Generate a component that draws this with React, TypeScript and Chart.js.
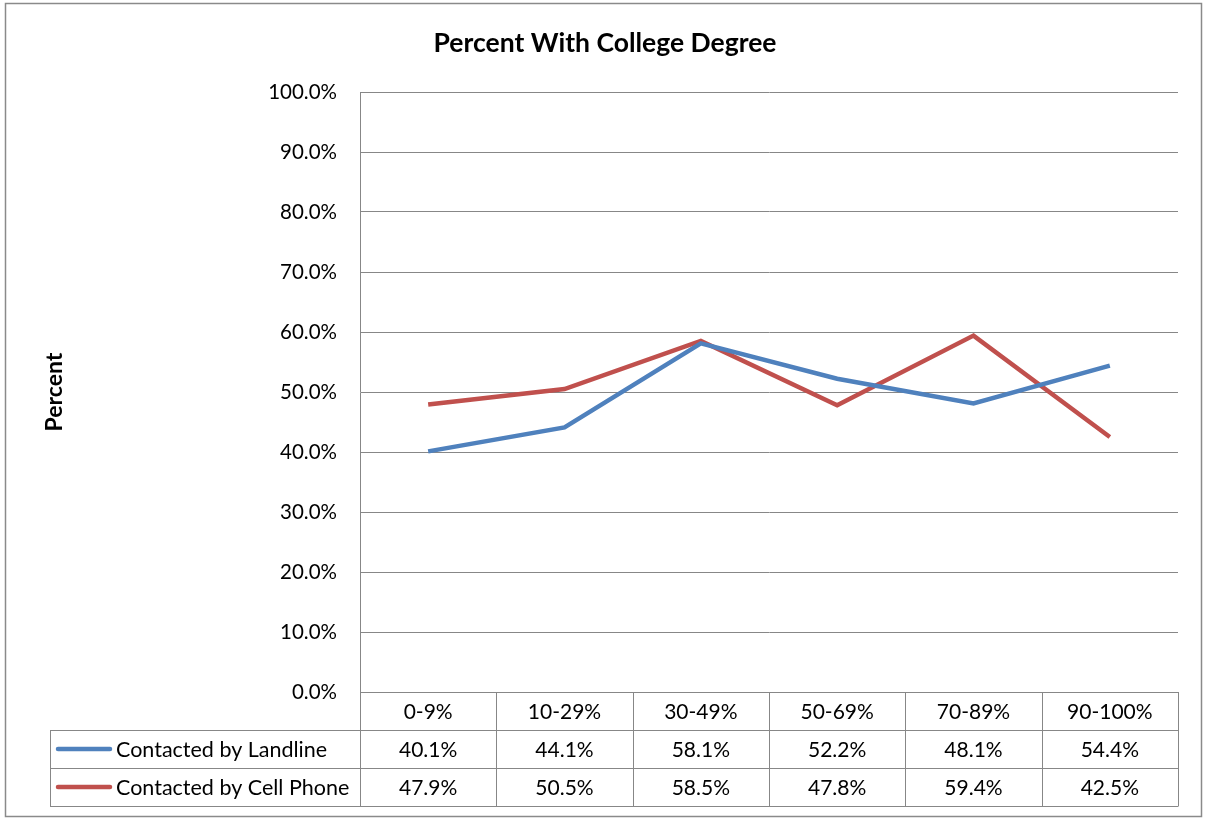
import React, { useEffect, useRef } from "react";
import { Chart, registerables, Plugin } from "chart.js";

Chart.register(...registerables);

const CATEGORIES = ["0-9%", "10-29%", "30-49%", "50-69%", "70-89%", "90-100%"];
const SERIES_NAMES = ["Contacted by Landline", "Contacted by Cell Phone"];
const LANDLINE = [40.1, 44.1, 58.1, 52.2, 48.1, 54.4];
const CELL_PHONE = [47.9, 50.5, 58.5, 47.8, 59.4, 42.5];
const SERIES_COLORS = ["#4F81BD", "#C0504D"];
const Y_MIN = 0;
const Y_MAX = 100;
const Y_STEP = 10;

const FONT = "Lato, 'DejaVu Sans', sans-serif";
const LINE_GRAY = "#878787";
const ROW_H = 38;
const SERIES_WIDTH = 4.5;

const fmt = (v: number) => v.toFixed(1) + "%";

// White background and the outer frame of the chart object
const framePlugin: Plugin<"line"> = {
  id: "frame",
  beforeDraw(chart) {
    const { ctx, width, height } = chart;
    ctx.save();
    ctx.fillStyle = "#ffffff";
    ctx.fillRect(0, 0, width, height);
    ctx.strokeStyle = "#8a8a8a";
    ctx.lineWidth = 1.5;
    ctx.strokeRect(5.5, 3.5, 1196, 813);
    ctx.restore();
  },
};

// Data table under the plot: category header row plus one row per series
const dataTablePlugin: Plugin<"line"> = {
  id: "dataTable",
  afterDraw(chart) {
    const { ctx, chartArea } = chart;
    const x = chart.scales.x;
    const n = CATEGORIES.length;
    const step = (chartArea.right - chartArea.left) / n;
    const top = Math.round(chartArea.bottom);
    const legendLeft = 50;
    const rows = [top, top + ROW_H, top + 2 * ROW_H, top + 3 * ROW_H];
    const seriesValues = [LANDLINE, CELL_PHONE];

    ctx.save();
    ctx.strokeStyle = LINE_GRAY;
    ctx.lineWidth = 1;
    const hline = (x0: number, x1: number, y: number) => {
      ctx.beginPath();
      ctx.moveTo(x0, Math.round(y) + 0.5);
      ctx.lineTo(x1, Math.round(y) + 0.5);
      ctx.stroke();
    };
    const vline = (xx: number, y0: number, y1: number) => {
      ctx.beginPath();
      ctx.moveTo(Math.round(xx) + 0.5, y0);
      ctx.lineTo(Math.round(xx) + 0.5, y1);
      ctx.stroke();
    };

    // horizontal rules
    hline(chartArea.left, chartArea.right, rows[1]);
    hline(legendLeft, chartArea.left, rows[1]);
    hline(legendLeft, chartArea.right, rows[2]);
    hline(legendLeft, chartArea.right, rows[3]);

    // vertical rules
    vline(legendLeft, rows[1], rows[3] + 0.5);
    vline(chartArea.left, rows[0], rows[3] + 0.5);
    for (let i = 0; i < n; i++) {
      const right = x.getPixelForValue(i) + step / 2;
      vline(right, rows[0], rows[3] + 0.5);
    }

    ctx.fillStyle = "#000000";
    ctx.textBaseline = "middle";
    ctx.textAlign = "center";
    ctx.font = `21px ${FONT}`;
    CATEGORIES.forEach((c, i) => {
      ctx.fillText(c, x.getPixelForValue(i), (rows[0] + rows[1]) / 2 + 1);
    });
    seriesValues.forEach((vals, r) => {
      const cy = (rows[r + 1] + rows[r + 2]) / 2 + 1;
      ctx.font = `21px ${FONT}`;
      ctx.textAlign = "center";
      vals.forEach((v, i) => {
        ctx.fillText(fmt(v), x.getPixelForValue(i), cy);
      });
      // legend key
      ctx.strokeStyle = SERIES_COLORS[r];
      ctx.lineWidth = SERIES_WIDTH;
      ctx.lineCap = "round";
      ctx.beginPath();
      ctx.moveTo(58, cy - 1);
      ctx.lineTo(110, cy - 1);
      ctx.stroke();
      ctx.font = `21.5px ${FONT}`;
      ctx.textAlign = "left";
      ctx.fillText(SERIES_NAMES[r], 116, cy);
    });
    ctx.restore();
  },
};

export default function App() {
  const canvasRef = useRef<HTMLCanvasElement | null>(null);

  useEffect(() => {
    if (!canvasRef.current) return;
    const chart = new Chart(canvasRef.current, {
      type: "line",
      data: {
        labels: CATEGORIES,
        datasets: [
          {
            label: SERIES_NAMES[0],
            data: LANDLINE,
            borderColor: SERIES_COLORS[0],
            backgroundColor: SERIES_COLORS[0],
            borderWidth: SERIES_WIDTH,
            pointRadius: 0,
            tension: 0,
          },
          {
            label: SERIES_NAMES[1],
            data: CELL_PHONE,
            borderColor: SERIES_COLORS[1],
            backgroundColor: SERIES_COLORS[1],
            borderWidth: SERIES_WIDTH,
            pointRadius: 0,
            tension: 0,
          },
        ],
      },
      options: {
        responsive: false,
        animation: false,
        layout: { padding: { left: 32, right: 32, top: 0, bottom: 127 } },
        plugins: {
          legend: { display: false },
          tooltip: { enabled: false },
          title: {
            display: true,
            text: "Percent With College Degree",
            color: "#000000",
            font: { family: FONT, size: 26.5, weight: "bold" },
            padding: { top: 28, bottom: 32.2 },
          },
        },
        scales: {
          x: {
            type: "category",
            display: false,
            offset: true,
          },
          y: {
            min: Y_MIN,
            max: Y_MAX,
            afterFit(scale) {
              scale.width = 328;
            },
            ticks: {
              stepSize: Y_STEP,
              padding: 23,
              color: "#000000",
              font: { family: FONT, size: 20.5 },
              callback: (v) => fmt(Number(v)),
            },
            grid: { color: LINE_GRAY, drawTicks: false },
            border: { display: true, color: LINE_GRAY },
            title: {
              display: true,
              text: "Percent",
              color: "#000000",
              font: { family: FONT, size: 23, weight: "bold" },
              padding: { top: 9, bottom: 0 },
            },
          },
        },
      },
      plugins: [framePlugin, dataTablePlugin],
    });
    return () => chart.destroy();
  }, []);

  return (
    <div style={{ position: "absolute", left: 0, top: 0, width: 1210, height: 819 }}>
      <canvas ref={canvasRef} width={1210} height={819} />
    </div>
  );
}
